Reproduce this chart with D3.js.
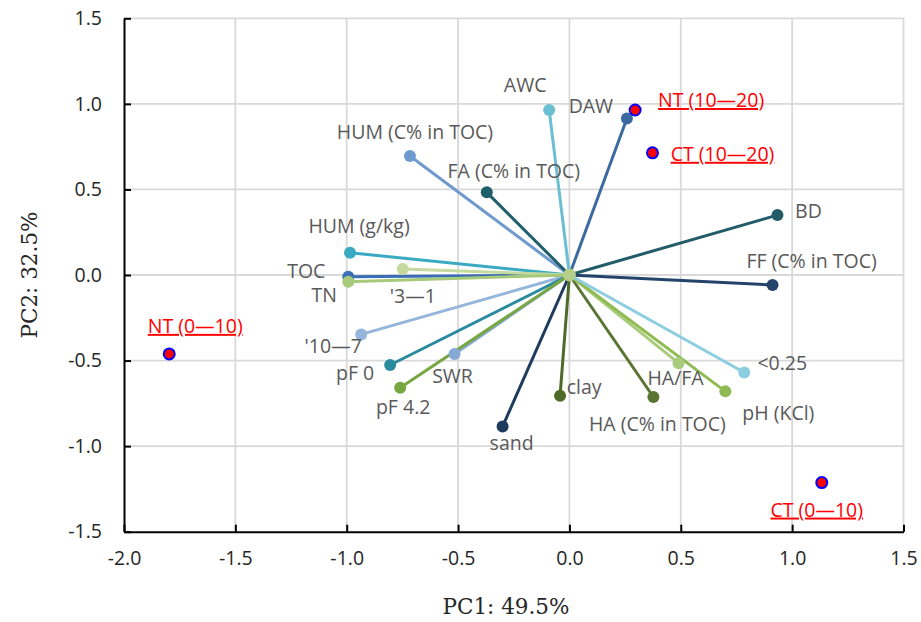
<!DOCTYPE html>
<html>
<head>
<meta charset="utf-8">
<script src="https://cdn.jsdelivr.net/npm/d3@7"></script>
<style>
  body { margin: 0; background: #fff; }
  svg text { font-family: "Open Sans", sans-serif; }
</style>
</head>
<body>
<div id="chart-area"></div>
<script>
// variable loadings (PC1, PC2)
var varNames = ["AWC", "DAW", "HUM (C% in TOC)", "FA (C% in TOC)", "BD", "FF (C% in TOC)",
  "HUM (g/kg)", "TOC", "'3\u20141", "'10\u20147", "pF 0", "SWR", "pF 4.2", "sand", "clay",
  "HA (C% in TOC)", "HA/FA", "pH (KCl)", "<0.25", "TN"];
var pc1Load = [-0.091, 0.258, -0.716, -0.371, 0.934, 0.912,
  -0.985, -0.993, -0.748, -0.935, -0.805, -0.516, -0.760, -0.300, -0.042,
  0.377, 0.490, 0.700, 0.785, -0.993];
var pc2Load = [0.964, 0.915, 0.695, 0.483, 0.350, -0.058,
  0.130, -0.010, 0.035, -0.347, -0.526, -0.462, -0.659, -0.885, -0.705,
  -0.713, -0.515, -0.680, -0.570, -0.039];

// sample scores
var siteNames = ["NT (10\u201420)", "CT (10\u201420)", "NT (0\u201410)", "CT (0\u201410)"];
var sitePC1 = [0.295, 0.373, -1.797, 1.133];
var sitePC2 = [0.964, 0.714, -0.461, -1.213];

var xTicks = [-2.0, -1.5, -1.0, -0.5, 0.0, 0.5, 1.0, 1.5];
var yTicks = [-1.5, -1.0, -0.5, 0.0, 0.5, 1.0, 1.5];

// styles
var varColors = ["#6bbfd3", "#3b6aa0", "#6f9ad0", "#1f5e6b", "#215c68", "#24436b",
  "#3aaac3", "#3a6db5", "#c4da9e", "#95b5dc", "#2a8b9e", "#87a9d8", "#78a640", "#1e3a5c", "#4d6a26",
  "#5a7431", "#a9cc7c", "#8fbb52", "#8ccde0", "#a6c97a"];
// label offsets from the marker (px), text-anchor middle, baseline
var varLabelOff = [[-24, -18], [-36, -5], [5, -17], [27, -14], [31, 3], [39, -17],
  [9, -20], [-42, 1], [10, 34], [-28, 19], [-35, 15], [-2, 29], [3, 26], [9, 24], [24, -2],
  [4, 34], [-3, 22], [53, 29], [38, -3], [-24, 20]];
var siteLabelOff = [[76, -3], [70, 8], [26, -21], [-5, 34]];

var margin = {left: 124, right: 17.5, top: 18.3, bottom: 90.3};
var width = 921 - margin.left - margin.right;
var height = 622 - margin.top - margin.bottom;

var svg = d3.select("#chart-area").append("svg")
  .attr("width", 921)
  .attr("height", 622);
var g = svg.append("g")
  .attr("transform", "translate(" + margin.left + ", " + margin.top + ")");

var x = d3.scaleLinear().domain([-2, 1.5]).range([0, width]);
var y = d3.scaleLinear().domain([-1.5, 1.5]).range([height, 0]);
var fmt = function(d) { return d.toFixed(1); };

// grid
g.append("g").attr("class", "grid")
  .selectAll("line.v").data(xTicks.filter(function(d) { return d > -2; }))
  .enter().append("line")
  .attr("x1", function(d) { return x(d); }).attr("x2", function(d) { return x(d); })
  .attr("y1", 0).attr("y2", height)
  .attr("stroke", "#d9d9d9").attr("stroke-width", 1.8);
g.append("g").attr("class", "grid")
  .selectAll("line.h").data(yTicks.filter(function(d) { return d > -1.5; }))
  .enter().append("line")
  .attr("x1", 0).attr("x2", width)
  .attr("y1", function(d) { return y(d); }).attr("y2", function(d) { return y(d); })
  .attr("stroke", "#d9d9d9").attr("stroke-width", 1.8);

// axes
var xAxis = d3.axisBottom(x).tickValues(xTicks).tickFormat(fmt)
  .tickSizeInner(-7).tickSizeOuter(0).tickPadding(19);
var yAxis = d3.axisLeft(y).tickValues(yTicks).tickFormat(fmt)
  .tickSizeInner(-7).tickSizeOuter(0).tickPadding(22);
var xAxisGroup = g.append("g").attr("transform", "translate(0, " + height + ")").call(xAxis);
var yAxisGroup = g.append("g").call(yAxis);
[xAxisGroup, yAxisGroup].forEach(function(ax) {
  ax.select(".domain").attr("stroke", "#000").attr("stroke-width", 2);
  ax.selectAll(".tick line").attr("stroke", "#000").attr("stroke-width", 2);
  ax.selectAll(".tick text").attr("fill", "#262626")
    .style("font-family", "'Open Sans', sans-serif").style("font-size", "19.5px");
});

// axis titles
svg.append("text")
  .attr("x", 506).attr("y", 614)
  .attr("text-anchor", "middle")
  .style("font-family", "'DejaVu Serif', serif").style("font-size", "21.5px")
  .attr("fill", "#262626")
  .text("PC1: 49.5%");
svg.append("text")
  .attr("transform", "translate(37, 275) rotate(-90)")
  .attr("text-anchor", "middle")
  .style("font-family", "'DejaVu Serif', serif").style("font-size", "21.5px")
  .attr("fill", "#262626")
  .text("PC2: 32.5%");

// loading vectors
var vars = varNames.map(function(n, i) {
  return {name: n, pc1: pc1Load[i], pc2: pc2Load[i], color: varColors[i], off: varLabelOff[i]};
});
var vg = g.append("g");
vg.selectAll("line").data(vars).enter().append("line")
  .attr("x1", x(0)).attr("y1", y(0))
  .attr("x2", function(d) { return x(d.pc1); })
  .attr("y2", function(d) { return y(d.pc2); })
  .attr("stroke", function(d) { return d.color; })
  .attr("stroke-width", 3);
vg.selectAll("circle").data(vars).enter().append("circle")
  .attr("cx", function(d) { return x(d.pc1); })
  .attr("cy", function(d) { return y(d.pc2); })
  .attr("r", 6)
  .attr("fill", function(d) { return d.color; });
vg.append("circle")
  .attr("cx", x(0)).attr("cy", y(0)).attr("r", 6.5)
  .attr("fill", "#b5cf8a");
vg.selectAll("text").data(vars).enter().append("text")
  .attr("x", function(d) { return x(d.pc1) + d.off[0]; })
  .attr("y", function(d) { return y(d.pc2) + d.off[1]; })
  .attr("text-anchor", "middle")
  .attr("fill", "#595959")
  .style("font-size", "19.5px")
  .text(function(d) { return d.name; });

// sample scores
var sites = siteNames.map(function(n, i) {
  return {name: n, pc1: sitePC1[i], pc2: sitePC2[i], off: siteLabelOff[i]};
});
var sg = g.append("g");
sg.selectAll("circle").data(sites).enter().append("circle")
  .attr("cx", function(d) { return x(d.pc1); })
  .attr("cy", function(d) { return y(d.pc2); })
  .attr("r", 5.5)
  .attr("fill", "#ff0000")
  .attr("stroke", "#0000ff")
  .attr("stroke-width", 2);
sg.selectAll("text").data(sites).enter().append("text")
  .attr("x", function(d) { return x(d.pc1) + d.off[0]; })
  .attr("y", function(d) { return y(d.pc2) + d.off[1]; })
  .attr("text-anchor", "middle")
  .attr("fill", "#ff0000")
  .attr("text-decoration", "underline")
  .style("font-size", "19.5px")
  .text(function(d) { return d.name; });
</script>
</body>
</html>
